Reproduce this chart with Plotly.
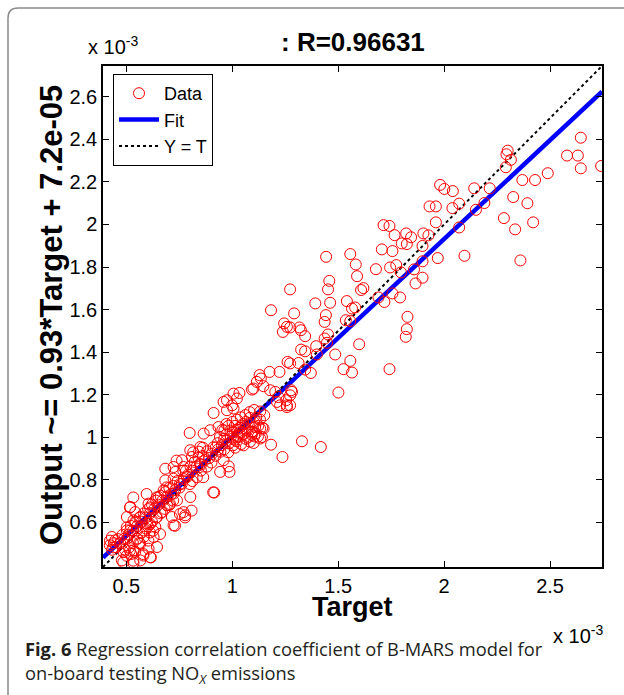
import plotly.graph_objects as go

# ---- data (values in units of 1e-3) ----
upper_points = [
    (2.645, 2.408), (2.580, 2.324), (2.631, 2.324), (2.645, 2.264), (2.741, 2.275),
    (2.489, 2.241), (2.429, 2.209), (2.369, 2.209), (2.326, 2.129), (2.393, 2.100),
    (2.420, 2.010), (2.335, 1.977), (2.282, 2.030), (2.360, 1.831), (2.300, 2.347),
    (2.294, 2.330), (2.315, 2.304), (2.291, 2.269), (2.215, 2.170), (2.190, 2.101),
    (2.150, 2.069), (2.142, 2.170), (2.041, 2.157), (2.001, 2.167), (1.981, 2.186),
    (2.071, 2.098), (2.039, 2.077), (1.961, 2.085), (1.931, 2.085), (1.961, 2.010),
    (2.071, 1.986), (1.926, 1.949), (1.902, 1.958), (1.898, 1.899), (1.898, 1.827),
    (1.970, 1.842), (2.096, 1.853), (1.898, 1.750),
]
middle_points = [
    (1.714, 1.997), (1.742, 1.993), (1.766, 1.950), (1.821, 1.958), (1.844, 1.940),
    (1.800, 1.911), (1.824, 1.908), (1.706, 1.883), (1.756, 1.875), (1.443, 1.848),
    (1.557, 1.861), (1.583, 1.812), (1.678, 1.790), (1.745, 1.798), (1.774, 1.809),
    (1.796, 1.775), (1.858, 1.789), (1.865, 1.723), (1.589, 1.757), (1.458, 1.735),
    (1.452, 1.695), (1.619, 1.701), (1.608, 1.692), (1.756, 1.676), (1.792, 1.657),
    (1.718, 1.636), (1.690, 1.657), (1.392, 1.629), (1.462, 1.632), (1.541, 1.640),
    (1.565, 1.605), (1.580, 1.610), (1.442, 1.574), (1.436, 1.542), (1.536, 1.550),
    (1.557, 1.546), (1.827, 1.566), (1.824, 1.508), (1.819, 1.472), (1.292, 1.582),
    (1.273, 1.695), (1.273, 1.516), (1.317, 1.516), (1.324, 1.503), (1.344, 1.475),
    (1.452, 1.483), (1.436, 1.464), (1.447, 1.444), (1.396, 1.428), (1.325, 1.412),
    (1.344, 1.404), (1.399, 1.389), (1.599, 1.437), (1.486, 1.389), (1.557, 1.359),
    (1.525, 1.320), (1.565, 1.304), (1.742, 1.320), (1.313, 1.349), (1.344, 1.318),
    (1.371, 1.302), (1.278, 1.221), (1.501, 1.210), (1.273, 1.150), (1.329, 0.981),
    (1.418, 0.954), (1.273, 1.347),
]
transition_points = [
    (1.183, 1.597), (1.245, 1.535), (1.258, 1.519), (1.239, 1.495), (1.261, 1.354),
    (1.223, 1.307), (1.176, 1.307), (1.129, 1.292), (1.135, 1.276), (1.116, 1.260),
    (1.100, 1.229), (1.147, 1.240), (1.179, 1.221), (1.203, 1.213), (1.034, 1.208),
    (1.022, 1.182), (0.975, 1.174), (0.999, 1.150), (0.912, 1.114), (1.258, 1.150),
    (1.273, 1.197), (1.255, 1.174), (1.282, 1.213), (1.218, 1.189), (1.226, 1.150),
    (1.258, 1.142), (1.211, 1.166), (1.183, 0.965), (1.237, 0.907), (1.132, 0.994),
    (1.132, 1.041), (1.093, 1.025), (1.148, 1.041), (1.108, 1.048), (1.006, 1.205),
    (0.959, 1.166), (0.975, 1.127), (1.006, 1.135), (1.093, 1.224), (1.140, 1.001),
]
cluster_points = [
    (0.951, 0.963), (0.962, 0.992), (0.973, 1.014), (0.984, 0.971), (0.993, 1.003),
    (1.004, 1.024), (1.012, 0.988), (1.023, 1.035), (1.031, 1.002), (1.043, 1.052),
    (1.052, 1.013), (1.061, 1.041), (1.072, 0.998), (1.081, 1.063), (1.093, 1.027),
    (1.102, 1.071), (1.111, 1.018), (1.123, 1.054), (1.003, 0.962), (1.021, 0.981),
    (1.042, 0.968), (1.063, 0.993), (1.084, 0.979), (1.104, 1.004), (0.942, 1.001),
    (0.963, 1.032), (0.982, 1.053), (1.001, 1.072), (1.022, 1.083), (1.041, 1.094),
    (1.062, 1.104), (1.083, 1.091), (1.051, 1.062), (1.033, 1.044), (1.012, 1.053),
    (0.991, 1.031), (0.972, 1.062), (0.953, 1.034), (0.931, 0.972), (0.922, 0.951),
    (0.944, 0.932), (0.962, 0.943), (0.981, 0.929), (1.003, 0.994), (1.034, 1.021),
    (1.071, 1.033), (1.092, 1.011), (1.113, 1.092), (1.131, 1.083), (1.142, 1.044),
    (1.121, 1.003), (1.101, 0.973), (1.053, 0.962), (1.014, 0.951), (0.972, 0.984),
    (1.024, 1.006), (1.044, 1.023), (1.064, 1.072), (1.082, 1.118), (1.103, 1.128),
    (1.132, 1.121), (1.151, 1.103),
]
lower_points = [
    (0.799, 1.020), (0.915, 0.740), (0.943, 0.837), (0.987, 0.837), (0.959, 0.892),
    (0.983, 0.863), (0.935, 1.048), (0.896, 1.033), (0.865, 1.017), (0.849, 0.954),
    (0.802, 0.939), (0.810, 0.907), (0.763, 0.892), (0.770, 0.860), (0.786, 0.813),
    (0.802, 0.719), (0.770, 0.648), (0.723, 0.860), (0.731, 0.837), (0.684, 0.852),
    (0.723, 0.805), (0.684, 0.797), (0.723, 0.735), (0.676, 0.750), (0.652, 0.719),
    (0.692, 0.680), (0.739, 0.703), (0.668, 0.648), (0.715, 0.625), (0.778, 0.633),
    (0.723, 0.586), (0.637, 0.578), (0.605, 0.688), (0.519, 0.672), (0.542, 0.648),
    (0.503, 0.625), (0.534, 0.609), (0.566, 0.625), (0.597, 0.594), (0.581, 0.562),
    (0.519, 0.562), (0.503, 0.523), (0.550, 0.523), (0.566, 0.499), (0.432, 0.531),
    (0.448, 0.515), (0.534, 0.468), (0.581, 0.444), (0.487, 0.460), (0.479, 0.421),
    (0.534, 0.408), (0.566, 0.421), (0.613, 0.436), (0.629, 0.531), (0.645, 0.484),
    (0.605, 0.476), (0.910, 0.741), (0.808, 0.655), (0.777, 0.623), (0.730, 0.584),
    (0.816, 0.929), (0.737, 0.890), (0.848, 0.874), (0.863, 0.812), (0.800, 0.780),
    (0.753, 0.780), (0.769, 0.843), (0.706, 0.686), (0.753, 0.639), (0.690, 0.764),
    (0.643, 0.717), (0.596, 0.733), (0.533, 0.717), (0.517, 0.670), (0.612, 0.670),
    (0.659, 0.545), (0.612, 0.592), (0.502, 0.576), (0.549, 0.561), (0.627, 0.561),
    (0.643, 0.623), (0.423, 0.514), (0.439, 0.482), (0.517, 0.467), (0.580, 0.451),
    (0.604, 0.514), (0.486, 0.412), (0.533, 0.420), (0.616, 0.435),
]
band_points = [
    (0.903, 0.921), (0.912, 0.953), (0.891, 0.902), (0.882, 0.934), (0.871, 0.893),
    (0.862, 0.912), (0.853, 0.871), (0.841, 0.903), (0.832, 0.862), (0.823, 0.884),
    (0.811, 0.843), (0.803, 0.862), (0.792, 0.824), (0.781, 0.841), (0.772, 0.803),
    (0.921, 0.913), (0.933, 0.942), (0.902, 0.881), (0.881, 0.862), (0.852, 0.843),
    (0.843, 0.932), (0.861, 0.951), (0.833, 0.812), (0.812, 0.794), (0.762, 0.781),
    (0.751, 0.763), (0.742, 0.794), (0.731, 0.752), (0.722, 0.771), (0.712, 0.733),
    (0.703, 0.762), (0.692, 0.721), (0.683, 0.742), (0.671, 0.703), (0.662, 0.724),
    (0.651, 0.683), (0.641, 0.702), (0.632, 0.663), (0.621, 0.684), (0.612, 0.643),
    (0.603, 0.662), (0.591, 0.622), (0.582, 0.641), (0.573, 0.603), (0.562, 0.621),
    (0.551, 0.582), (0.543, 0.603), (0.532, 0.561), (0.521, 0.583), (0.512, 0.542),
    (0.503, 0.562), (0.491, 0.523), (0.482, 0.541), (0.471, 0.502), (0.462, 0.521),
    (0.452, 0.483), (0.441, 0.502), (0.433, 0.471), (0.422, 0.492), (0.552, 0.523),
    (0.571, 0.552), (0.592, 0.571), (0.621, 0.602), (0.642, 0.623), (0.661, 0.642),
    (0.681, 0.663), (0.702, 0.681), (0.721, 0.702), (0.531, 0.503), (0.512, 0.481),
    (0.493, 0.472), (0.561, 0.503), (0.583, 0.532), (0.602, 0.581), (0.611, 0.552),
    (0.542, 0.462), (0.523, 0.451), (0.502, 0.443),
]

fit_slope = 0.93
fit_intercept = 0.072          # 7.2e-05 expressed in units of 1e-3
axis_limits = [0.39, 2.745]
x_ticks = [0.5, 1.0, 1.5, 2.0, 2.5]
x_tick_labels = ["0.5", "1", "1.5", "2", "2.5"]
y_ticks = [0.6, 0.8, 1.0, 1.2, 1.4, 1.6, 1.8, 2.0, 2.2, 2.4, 2.6]
y_tick_labels = ["0.6", "0.8", "1", "1.2", "1.4", "1.6", "1.8", "2", "2.2", "2.4", "2.6"]
title_text = ": R=0.96631"
ylabel_text = "Output ~= 0.93*Target + 7.2e-05"
xlabel_text = "Target"

all_points = (upper_points + middle_points + transition_points + cluster_points
              + lower_points + band_points)
target = [p[0] for p in all_points]
output = [p[1] for p in all_points]

# ---- figure geometry ----
W, H = 624, 695
L, R, T, B = 103, 602, 66, 567
pw, ph = R - L, B - T


def px(x):
    return (x - L) / pw


def py(y):
    return (B - y) / ph


MATLAB_FONT = "Liberation Sans, Arial, Helvetica, sans-serif"
CAPTION_FONT = "Open Sans, sans-serif"

fig = go.Figure()

fit_x = axis_limits
fit_y = [fit_slope * v + fit_intercept for v in fit_x]
fig.add_trace(go.Scatter(
    x=fit_x, y=fit_y, mode="lines", name="Fit", legendrank=2,
    line=dict(color="#0000ff", width=4.5),
))
fig.add_trace(go.Scatter(
    x=axis_limits, y=axis_limits, mode="lines", name="Y = T", legendrank=3,
    line=dict(color="black", width=2, dash="dot"),
))
fig.add_trace(go.Scatter(
    x=target, y=output, mode="markers", name="Data", legendrank=1,
    marker=dict(symbol="circle-open", size=11, color="#ff0000",
                line=dict(color="#ff0000", width=1)),
))

axis_common = dict(
    showgrid=False, zeroline=False, showline=True, linecolor="black",
    linewidth=1.5, mirror="ticks", ticks="inside", ticklen=6,
    tickcolor="black", tickwidth=1,
    tickfont=dict(family=MATLAB_FONT, size=20, color="black"),
)
fig.update_xaxes(range=axis_limits, tickvals=x_ticks, ticktext=x_tick_labels,
                 **axis_common)
fig.update_yaxes(range=axis_limits, tickvals=y_ticks, ticktext=y_tick_labels,
                 **axis_common)

annotations = [
    dict(text="<b>" + title_text + "</b>", x=0.5, y=py(42), xref="paper", yref="paper",
         xanchor="center", yanchor="middle", showarrow=False,
         font=dict(family=MATLAB_FONT, size=26, color="black")),
    dict(text="<b>" + ylabel_text + "</b>", x=px(51), y=py(315), xref="paper",
         yref="paper", xanchor="center", yanchor="middle", textangle=-90,
         showarrow=False, font=dict(family=MATLAB_FONT, size=31, color="black")),
    dict(text="<b>" + xlabel_text + "</b>", x=px(352), y=py(607), xref="paper",
         yref="paper", xanchor="center", yanchor="middle", showarrow=False,
         font=dict(family=MATLAB_FONT, size=27, color="black")),
    dict(text="x 10<sup>-3</sup>", x=px(86), y=py(60), xref="paper", yref="paper",
         xanchor="left", yanchor="bottom", showarrow=False,
         font=dict(family=MATLAB_FONT, size=20, color="black")),
    dict(text="x 10<sup>-3</sup>", x=px(551), y=py(620), xref="paper", yref="paper",
         xanchor="left", yanchor="top", showarrow=False,
         font=dict(family=MATLAB_FONT, size=20, color="black")),
    dict(text="<b>Fig. 6</b> Regression correlation coefficient of B-MARS model for",
         x=px(23), y=py(648), xref="paper", yref="paper", xanchor="left",
         yanchor="middle", showarrow=False,
         font=dict(family=CAPTION_FONT, size=18.3, color="#231f20")),
    dict(text="on-board testing NO<sub><i>X</i></sub> emissions",
         x=px(23), y=py(674), xref="paper", yref="paper", xanchor="left",
         yanchor="middle", showarrow=False,
         font=dict(family=CAPTION_FONT, size=18.3, color="#231f20")),
]

# card border (rounded top-left corner)
bx, by, r = 8, 8, 10
border_path = (f"M {px(bx)},{py(H + 10)} L {px(bx)},{py(by + r)} "
               f"Q {px(bx)},{py(by)} {px(bx + r)},{py(by)} L {px(W + 10)},{py(by)}")

fig.update_layout(
    width=W, height=H,
    margin=dict(l=L, r=W - R, t=T, b=H - B),
    paper_bgcolor="white", plot_bgcolor="white",
    showlegend=True,
    legend=dict(x=px(113), y=py(74), xanchor="left", yanchor="top",
                bgcolor="white", bordercolor="black", borderwidth=1,
                font=dict(family=MATLAB_FONT, size=18, color="black"),
                itemwidth=40, tracegroupgap=0),
    annotations=annotations,
    shapes=[dict(type="path", path=border_path, xref="paper", yref="paper",
                 line=dict(color="#8a8a8a", width=1.5), layer="above")],
)

fig.write_html("out.html")
